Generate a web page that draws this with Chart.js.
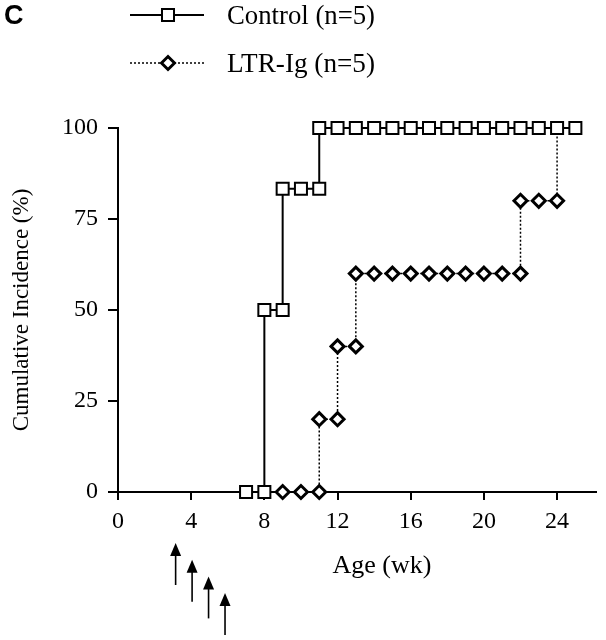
<!DOCTYPE html>
<html>
<head>
<meta charset="utf-8">
<title>Cumulative Incidence</title>
<script src="https://cdn.jsdelivr.net/npm/chart.js@4.4.1/dist/chart.umd.min.js"></script>
<style>
    html, body { margin: 0; padding: 0; background: #fff; }
    #wrap { position: relative; width: 606px; height: 640px; }
</style>
</head>
<body>
<div id="wrap"><canvas id="incidenceChart"></canvas></div>
<script>
// Step data (week, % incidence)
var controlWeeks = [7, 8, 8, 9, 9, 10, 11, 11, 12, 13, 14, 15, 16, 17, 18, 19, 20, 21, 22, 23, 24, 25];
var controlIncidence = [0, 0, 50, 50, 83.3, 83.3, 83.3, 100, 100, 100, 100, 100, 100, 100, 100, 100, 100, 100, 100, 100, 100, 100];

var ltrWeeks = [9, 10, 11, 11, 12, 12, 13, 13, 14, 15, 16, 17, 18, 19, 20, 21, 22, 22, 23, 24, 24];
var ltrIncidence = [0, 0, 0, 20, 20, 40, 40, 60, 60, 60, 60, 60, 60, 60, 60, 60, 60, 80, 80, 80, 100];

var seriesLabels = ['Control (n=5)', 'LTR-Ig (n=5)'];

var xTicks = [0, 4, 8, 12, 16, 20, 24];
var yTicks = [0, 25, 50, 75, 100];

// Treatment arrows under the x axis (week)
var arrowWeeks = [3.15, 4.05, 4.95, 5.85];

(function() {
    'use strict';

    var SERIF = '"Liberation Serif", "Times New Roman", serif';

    function toPoints(xs, ys) {
        var pts = [];
        for (var i = 0; i < xs.length; i++) {
            pts.push({ x: xs[i], y: ys[i] });
        }
        return pts;
    }

    function tickObjects(list) {
        var out = [];
        for (var i = 0; i < list.length; i++) {
            out.push({ value: list[i] });
        }
        return out;
    }

    // draw text stretched to a given width (the scan is a bit wider than Times)
    function fillTextWidth(ctx, text, x, y, width) {
        var w = ctx.measureText(text).width;
        var sx = w > 0 ? width / w : 1;
        ctx.save();
        ctx.translate(x, y);
        ctx.scale(sx, 1);
        ctx.fillText(text, 0, 0);
        ctx.restore();
    }

    // Panel letter, legend rows, x title and arrows
    var extrasPlugin = {
        id: 'extras',
        afterDraw: function(chart) {
            var ctx = chart.ctx;
            ctx.save();

            // panel letter
            ctx.fillStyle = '#000';
            ctx.font = 'bold 27px "Liberation Sans", Arial, sans-serif';
            ctx.textAlign = 'left';
            ctx.textBaseline = 'alphabetic';
            ctx.fillText('C', 4, 24);

            // legend
            var rows = [15, 63];
            for (var i = 0; i < chart.data.datasets.length; i++) {
                var ds = chart.data.datasets[i];
                var y = rows[i];
                ctx.save();
                ctx.strokeStyle = '#000';
                ctx.lineWidth = ds.borderWidth;
                ctx.setLineDash(ds.borderDash || []);
                ctx.beginPath();
                ctx.moveTo(130, y);
                ctx.lineTo(204, y);
                ctx.stroke();
                ctx.restore();

                ctx.save();
                ctx.fillStyle = '#fff';
                ctx.strokeStyle = '#000';
                ctx.lineWidth = ds.pointBorderWidth;
                Chart.helpers.drawPoint(ctx, {
                    pointStyle: ds.pointStyle,
                    radius: ds.legendRadius,
                    rotation: 0,
                    borderWidth: ds.pointBorderWidth
                }, 168, y);
                ctx.restore();

                ctx.fillStyle = '#000';
                ctx.font = '27px ' + SERIF;
                ctx.textAlign = 'left';
                ctx.textBaseline = 'middle';
                fillTextWidth(ctx, ds.label, 227, y + 2, 148);
            }

            // x axis title, sits right of the area centre in the original
            ctx.font = '26px ' + SERIF;
            ctx.textAlign = 'center';
            ctx.textBaseline = 'middle';
            ctx.fillText('Age (wk)', 382, 566);

            // arrows
            var xScale = chart.scales.x;
            ctx.fillStyle = '#000';
            ctx.strokeStyle = '#000';
            ctx.lineWidth = 1.6;
            for (var j = 0; j < arrowWeeks.length; j++) {
                var ax = xScale.getPixelForValue(arrowWeeks[j]);
                var top = 543 + j * 16.7;
                ctx.beginPath();
                ctx.moveTo(ax, top + 10);
                ctx.lineTo(ax, top + 42);
                ctx.stroke();
                ctx.beginPath();
                ctx.moveTo(ax, top);
                ctx.lineTo(ax - 5.5, top + 13);
                ctx.lineTo(ax + 5.5, top + 13);
                ctx.closePath();
                ctx.fill();
            }

            ctx.restore();
        }
    };

    function initChart() {
        var canvas = document.getElementById('incidenceChart');
        if (!canvas) {
            console.error('Canvas #incidenceChart not found');
            return;
        }
        var ctx = canvas.getContext('2d');

        Chart.defaults.font.family = SERIF;
        Chart.defaults.color = '#000';

        window.incidenceChart = new Chart(ctx, {
            type: 'scatter',
            data: {
                datasets: [{
                    label: seriesLabels[0],
                    data: toPoints(controlWeeks, controlIncidence),
                    showLine: true,
                    tension: 0,
                    borderColor: '#000',
                    borderWidth: 2,
                    pointStyle: 'rect',
                    pointRadius: 8.5,
                    legendRadius: 8.5,
                    pointHoverRadius: 8.5,
                    pointBackgroundColor: '#fff',
                    pointBorderColor: '#000',
                    pointBorderWidth: 2,
                    clip: false
                }, {
                    label: seriesLabels[1],
                    data: toPoints(ltrWeeks, ltrIncidence),
                    showLine: true,
                    tension: 0,
                    borderColor: '#000',
                    borderWidth: 1.5,
                    borderDash: [2, 2],
                    pointStyle: 'rectRot',
                    // last point hides under the control square
                    pointRadius: function(c) {
                        return c.dataIndex === ltrWeeks.length - 1 ? 0 : 6.5;
                    },
                    legendRadius: 6.5,
                    pointHoverRadius: 6.5,
                    pointBackgroundColor: '#fff',
                    pointBorderColor: '#000',
                    pointBorderWidth: 3,
                    clip: false
                }]
            },
            options: {
                responsive: true,
                maintainAspectRatio: false,
                animation: false,
                layout: { padding: { top: 128, right: 4, left: 0, bottom: 0 } },
                plugins: {
                    legend: { display: false },
                    tooltip: { enabled: false }
                },
                scales: {
                    x: {
                        type: 'linear',
                        min: 0,
                        max: 26.1,
                        afterBuildTicks: function(scale) {
                            scale.ticks = tickObjects(xTicks);
                        },
                        afterFit: function(scale) {
                            scale.height = 148;
                        },
                        grid: {
                            drawOnChartArea: false,
                            drawTicks: true,
                            tickLength: 8,
                            color: '#000',
                            lineWidth: 2
                        },
                        border: { display: true, color: '#000', width: 2 },
                        ticks: {
                            font: { size: 24, family: SERIF },
                            color: '#000',
                            padding: 7,
                            maxRotation: 0
                        },
                        title: { display: false }
                    },
                    y: {
                        min: 0,
                        max: 100,
                        afterBuildTicks: function(scale) {
                            scale.ticks = tickObjects(yTicks);
                        },
                        afterFit: function(scale) {
                            scale.width = 118;
                        },
                        grid: {
                            drawOnChartArea: false,
                            drawTicks: true,
                            tickLength: 10,
                            color: '#000',
                            lineWidth: 2
                        },
                        border: { display: true, color: '#000', width: 2 },
                        ticks: {
                            font: { size: 24, family: SERIF },
                            color: '#000',
                            padding: 10
                        },
                        title: {
                            display: true,
                            text: 'Cumulative Incidence (%)',
                            font: { size: 23, family: SERIF },
                            color: '#000',
                            padding: { top: 8, bottom: 0 }
                        }
                    }
                }
            },
            plugins: [extrasPlugin]
        });
    }

    if (document.readyState === 'loading') {
        document.addEventListener('DOMContentLoaded', initChart);
    } else {
        initChart();
    }
})();
</script>
</body>
</html>
